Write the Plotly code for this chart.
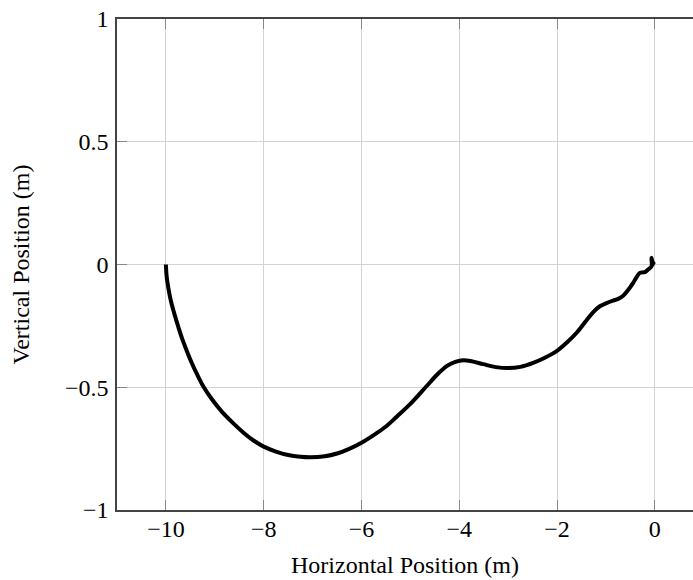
import plotly.graph_objects as go

# Trajectory
x_pos = [-10.0, -9.984, -9.946, -9.896, -9.828, -9.752, -9.671, -9.576, -9.473, -9.356,
         -9.224, -9.055, -8.852, -8.604, -8.40, -8.20, -8.0, -7.75, -7.50, -7.25,
         -7.05, -6.75, -6.50, -6.25, -6.0, -5.75, -5.50, -5.28, -5.0, -4.67,
         -4.45, -4.25, -4.08, -3.92, -3.75, -3.51, -3.25, -3.0, -2.75, -2.49,
         -2.25, -2.01, -1.80, -1.60, -1.40, -1.25, -1.125, -1.0, -0.853, -0.75,
         -0.648, -0.55, -0.444, -0.37, -0.307, -0.25, -0.204, -0.136, -0.068, -0.07,
         -0.05, -0.02, 0.0]
y_pos = [0.0, -0.05, -0.10, -0.15, -0.20, -0.25, -0.30, -0.35, -0.40, -0.45,
         -0.50, -0.55, -0.60, -0.65, -0.687, -0.718, -0.742, -0.762, -0.776, -0.783,
         -0.785, -0.781, -0.770, -0.751, -0.726, -0.695, -0.660, -0.620, -0.568, -0.496,
         -0.448, -0.413, -0.397, -0.390, -0.394, -0.406, -0.418, -0.422, -0.417, -0.401,
         -0.380, -0.353, -0.318, -0.278, -0.228, -0.192, -0.170, -0.158, -0.147, -0.140,
         -0.127, -0.105, -0.075, -0.050, -0.034, -0.032, -0.031, -0.020, -0.007, 0.027,
         0.012, 0.003, 0.0]

x_ticks = [-10, -8, -6, -4, -2, 0]
y_ticks = [-1, -0.5, 0, 0.5, 1]
y_tick_text = ["\u22121", "\u22120.5", "0", "0.5", "1"]
x_tick_text = ["\u221210", "\u22128", "\u22126", "\u22124", "\u22122", "0"]

fig = go.Figure()
fig.add_trace(go.Scatter(x=x_pos, y=y_pos, mode="lines",
                         line=dict(color="black", width=4, shape="spline", smoothing=1.0),
                         showlegend=False, hoverinfo="skip"))

font = dict(family="Liberation Serif, DejaVu Serif, serif", size=24, color="black")

fig.update_layout(
    width=693, height=580,
    margin=dict(l=117, r=0, t=19, b=70),
    paper_bgcolor="white", plot_bgcolor="white",
    font=font,
    xaxis=dict(range=[-11, 0.78], tickvals=x_ticks, ticktext=x_tick_text,
               automargin=False,
               showgrid=True, gridcolor="#d3d3d3", gridwidth=1,
               zeroline=False, showline=True, linecolor="#444", linewidth=1.5,
               mirror="allticks", ticks="inside", ticklen=10, tickcolor="#888",
               tickwidth=1, ticklabelstandoff=-4,
               title=dict(text="Horizontal Position (m)", standoff=16, font=font)),
    yaxis=dict(range=[-1, 1], tickvals=y_ticks, ticktext=y_tick_text,
               automargin=False,
               showgrid=True, gridcolor="#d3d3d3", gridwidth=1,
               zeroline=False, showline=True, linecolor="#444", linewidth=1.5,
               mirror=False, ticks="inside", ticklen=10, tickcolor="#888",
               tickwidth=1, ticklabelstandoff=2,
               title=dict(text="Vertical Position (m)", standoff=29, font=font)),
)

fig.write_html("out.html", config={"displayModeBar": False},
               post_script="document.body.style.margin='0';document.body.style.padding='0';")
